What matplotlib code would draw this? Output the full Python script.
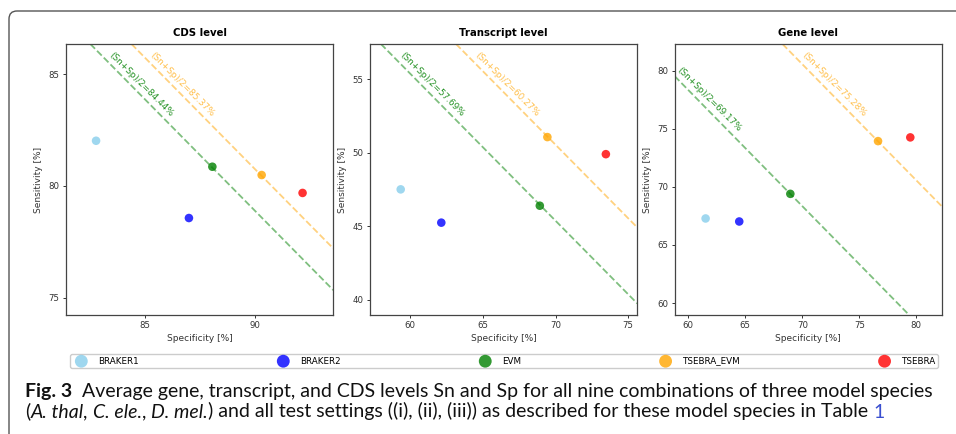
import matplotlib
matplotlib.use("Agg")
import matplotlib.pyplot as plt
from matplotlib.patches import FancyBboxPatch
from matplotlib.ticker import MultipleLocator

# data
methods = ["BRAKER1", "BRAKER2", "EVM", "TSEBRA_EVM", "TSEBRA"]
colors = ["skyblue", "blue", "green", "orange", "red"]
levels = ["CDS level", "Transcript level", "Gene level"]

cds_sp = [82.80, 87.00, 88.06, 90.29, 92.14]
cds_sn = [82.02, 78.57, 80.86, 80.49, 79.69]
tx_sp = [59.36, 62.15, 68.92, 69.44, 73.46]
tx_sn = [47.51, 45.25, 46.40, 51.06, 49.90]
gene_sp = [61.52, 64.47, 68.95, 76.64, 79.47]
gene_sn = [67.28, 67.02, 69.40, 73.94, 74.26]

evm_score = [84.44, 57.69, 69.17]
tsebra_evm_score = [85.37, 60.27, 75.28]

xlims = [(81.44, 93.53), (57.25, 75.62), (58.81, 82.25)]
ylims = [(74.24, 86.34), (38.98, 57.38), (58.97, 82.30)]

# x position (on the line) where each score label sits
evm_label_x = [84.59, 61.15, 61.30]
tsebra_label_x = [86.45, 66.29, 72.25]

W, H = 956, 434
fig = plt.figure(figsize=(W / 100, H / 100), dpi=100)

sp_all = [cds_sp, tx_sp, gene_sp]
sn_all = [cds_sn, tx_sn, gene_sn]
lefts = [66, 370, 674.7]
axw = 267.3
top_px, bot_px = 44, 315

for i in range(3):
    ax = fig.add_axes([lefts[i] / W, 1 - bot_px / H, axw / W, (bot_px - top_px) / H])
    for m, c, x, y in zip(methods, colors, sp_all[i], sn_all[i]):
        ax.scatter(x, y, s=38, color=c, alpha=0.8, edgecolors="none", label=m, zorder=3)
    for score, lx, col, a in [(evm_score[i], evm_label_x[i], "green", 0.85),
                              (tsebra_evm_score[i], tsebra_label_x[i], "orange", 0.7)]:
        ax.axline((0, 2 * score), slope=-1, ls="--", color=col, alpha=0.5, lw=1.3)
        ax.annotate(f"(Sn+Sp)/2={score:.2f}%", xy=(lx, 2 * score - lx),
                    xytext=(4.1, 4.1), textcoords="offset points",
                    rotation=-45, rotation_mode="anchor", transform_rotates_text=True,
                    ha="center", va="center", color=col, alpha=a, fontsize=6.4)
    ax.set_xlim(*xlims[i])
    ax.set_ylim(*ylims[i])
    ax.xaxis.set_major_locator(MultipleLocator(5))
    ax.yaxis.set_major_locator(MultipleLocator(5))
    ax.tick_params(labelsize=6.2, length=2.5, width=0.7, colors="#333", pad=2)
    for sp in ax.spines.values():
        sp.set_color("#444")
        sp.set_linewidth(0.9)
    ax.set_title(levels[i], fontsize=7.3, fontweight="bold", pad=6)
    ax.set_xlabel("Specificity [%]", fontsize=6.5, color="#333", labelpad=3)
    ax.set_ylabel("Sensitivity [%]", fontsize=6.5, color="#333", labelpad=4)
    if i == 0:
        handles, labels = ax.get_legend_handles_labels()

fig.legend(handles, labels, loc="center", ncol=5, mode="expand",
           bbox_to_anchor=(66 / W, 1 - 369 / H, (942 - 66) / W, 16 / H),
           fontsize=6.3, frameon=True, borderpad=0.25, handletextpad=0.9,
           markerscale=1.5, edgecolor="#ccc", framealpha=1)

# outer frame with rounded top-left corner
frame = FancyBboxPatch((0.09, -1.0), 12, 4.23 + 1.0, boxstyle="round,pad=0,rounding_size=0.08",
                       transform=fig.dpi_scale_trans, fill=False, edgecolor="#555", lw=1.0)
fig.add_artist(frame)

# caption
renderer = fig.canvas.get_renderer()
cap_font = "Lato"


def text_width(s, size, weight="normal", style="normal"):
    t = fig.text(0, 0, s, fontsize=size, family=cap_font, weight=weight, style=style)
    w = t.get_window_extent(renderer).width
    t.remove()
    return w


def space_width(size, weight="normal", style="normal"):
    return text_width("x x", size, weight, style) - text_width("xx", size, weight, style)


line1 = [("Fig. 3", "bold", "normal", "#111", 2),
         ("Average gene, transcript, and CDS levels Sn and Sp for all nine combinations of three model species",
          "normal", "normal", "#111", 0)]
line2 = [("(", "normal", "normal", "#111", 0), ("A. thal", "normal", "italic", "#111", 0),
         (",", "normal", "normal", "#111", 1), ("C. ele.", "normal", "italic", "#111", 0),
         (",", "normal", "normal", "#111", 1), ("D. mel.", "normal", "italic", "#111", 0),
         (") and all test settings ((i), (ii), (iii)) as described for these model species in Table",
          "normal", "normal", "#111", 1),
         ("1", "normal", "normal", "#3a4fd0", 0)]


def runs_width(runs, size):
    total = 0
    for s, wgt, sty, col, gap in runs:
        total += text_width(s, size, wgt, sty) + gap * space_width(size)
    return total


def draw_runs(runs, x, y, size):
    for s, wgt, sty, col, gap in runs:
        t = fig.text(x / W, 1 - y / H, s, fontsize=size, family=cap_font, weight=wgt,
                     style=sty, color=col, va="baseline", ha="left")
        x += t.get_window_extent(renderer).width + gap * space_width(size)


base = 12
cap_size = base * 903 / runs_width(line1, base)
draw_runs(line1, 25, 396.5, cap_size)
draw_runs(line2, 25, 417.5, cap_size)

fig.savefig("out.png", dpi=100)
